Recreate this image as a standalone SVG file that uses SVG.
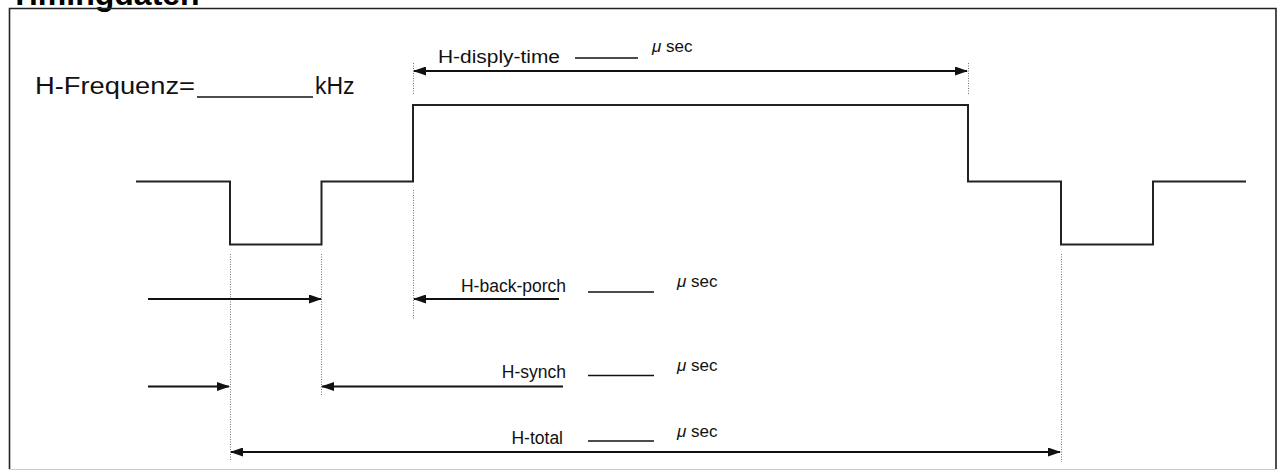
<svg xmlns="http://www.w3.org/2000/svg" width="1279" height="471" viewBox="0 0 1279 471">
  <defs>
    <marker id="ah" markerUnits="userSpaceOnUse" markerWidth="13" markerHeight="9" refX="12" refY="4.5" orient="auto-start-reverse">
      <path d="M0,0 L13,4.5 L0,9 z" fill="#111"/>
    </marker>
  </defs>
  <style>
    .lbl { font-family: "Liberation Sans", Arial, sans-serif; font-size: 17.5px; fill: #111; }
    .big { font-family: "Liberation Sans", Arial, sans-serif; font-size: 23px; fill: #111; }
    .mu { font-family: "Liberation Sans", Arial, sans-serif; font-size: 17px; fill: #111; }
    .wave { fill: none; stroke: #222; stroke-width: 2; }
    .arr { stroke: #111; stroke-width: 2; fill: none; }
    .dot { stroke: #777; stroke-width: 1; stroke-dasharray: 1 1.5; fill: none; }
    .blank { stroke: #111; stroke-width: 1.5; }
  </style>
  <rect width="1279" height="471" fill="#fff"/>

  <g id="title">
    <text x="10" y="5" font-family="'Liberation Sans', Arial, sans-serif" font-size="32" font-weight="bold" fill="#000">Timingdaten</text>
  </g>

  <g id="frame">
    <path d="M9.5,469 L9.5,8.5 L1276,8.5 L1276,469" fill="none" stroke="#222" stroke-width="1.6"/>
    <line x1="9.5" y1="469.5" x2="1276" y2="469.5" stroke="#ccc" stroke-width="1"/>
  </g>

  <g id="frequency">
    <text class="big" x="35" y="94" textLength="160" lengthAdjust="spacingAndGlyphs">H-Frequenz=</text>
    <line x1="197" y1="97" x2="313" y2="97" stroke="#111" stroke-width="1.5"/>
    <text class="big" x="315" y="94">kHz</text>
  </g>

  <g id="waveform">
    <path class="wave" d="M136,181.5 H230 V244.5 H321.5 V181.5 H413 V105 H968 V181.5 H1061 V244.5 H1153 V181.5 H1246"/>
  </g>

  <g id="display-time">
    <text class="lbl" x="438" y="63" textLength="122" lengthAdjust="spacingAndGlyphs">H-disply-time</text>
    <line class="blank" x1="575" y1="58" x2="638" y2="58"/>
    <text class="mu" x="652" y="52"><tspan font-style="italic">μ</tspan> sec</text>
  </g>

  <g id="back-porch">
    <text class="lbl" x="566" y="292" text-anchor="end">H-back-porch</text>
    <line class="blank" x1="588" y1="292" x2="654" y2="292"/>
    <text class="mu" x="677" y="287"><tspan font-style="italic">μ</tspan> sec</text>
  </g>

  <g id="synch">
    <text class="lbl" x="566" y="378" text-anchor="end">H-synch</text>
    <line class="blank" x1="588" y1="375.5" x2="654" y2="375.5"/>
    <text class="mu" x="677" y="371"><tspan font-style="italic">μ</tspan> sec</text>
  </g>

  <g id="total">
    <text class="lbl" x="563" y="444" text-anchor="end">H-total</text>
    <line class="blank" x1="588" y1="441" x2="654" y2="441"/>
    <text class="mu" x="677" y="437"><tspan font-style="italic">μ</tspan> sec</text>
  </g>

  <g id="connectors">
    <line class="dot" x1="413.5" y1="63" x2="413.5" y2="95"/>
    <line class="dot" x1="968.5" y1="63" x2="968.5" y2="95"/>
    <line class="dot" x1="413.5" y1="190" x2="413.5" y2="320"/>
    <line class="dot" x1="230.5" y1="254" x2="230.5" y2="461"/>
    <line class="dot" x1="321.5" y1="254" x2="321.5" y2="395"/>
    <line class="dot" x1="1061.5" y1="254" x2="1061.5" y2="462"/>
    <line class="arr" x1="414" y1="71" x2="967" y2="71" marker-start="url(#ah)" marker-end="url(#ah)"/>
    <line class="arr" x1="148" y1="299" x2="321" y2="299" marker-end="url(#ah)"/>
    <line class="arr" x1="559" y1="299" x2="414" y2="299" marker-end="url(#ah)"/>
    <line class="arr" x1="148" y1="386.5" x2="229" y2="386.5" marker-end="url(#ah)"/>
    <line class="arr" x1="563" y1="386.5" x2="322" y2="386.5" marker-end="url(#ah)"/>
    <line class="arr" x1="231" y1="452" x2="1060" y2="452" marker-start="url(#ah)" marker-end="url(#ah)"/>
  </g>
</svg>
